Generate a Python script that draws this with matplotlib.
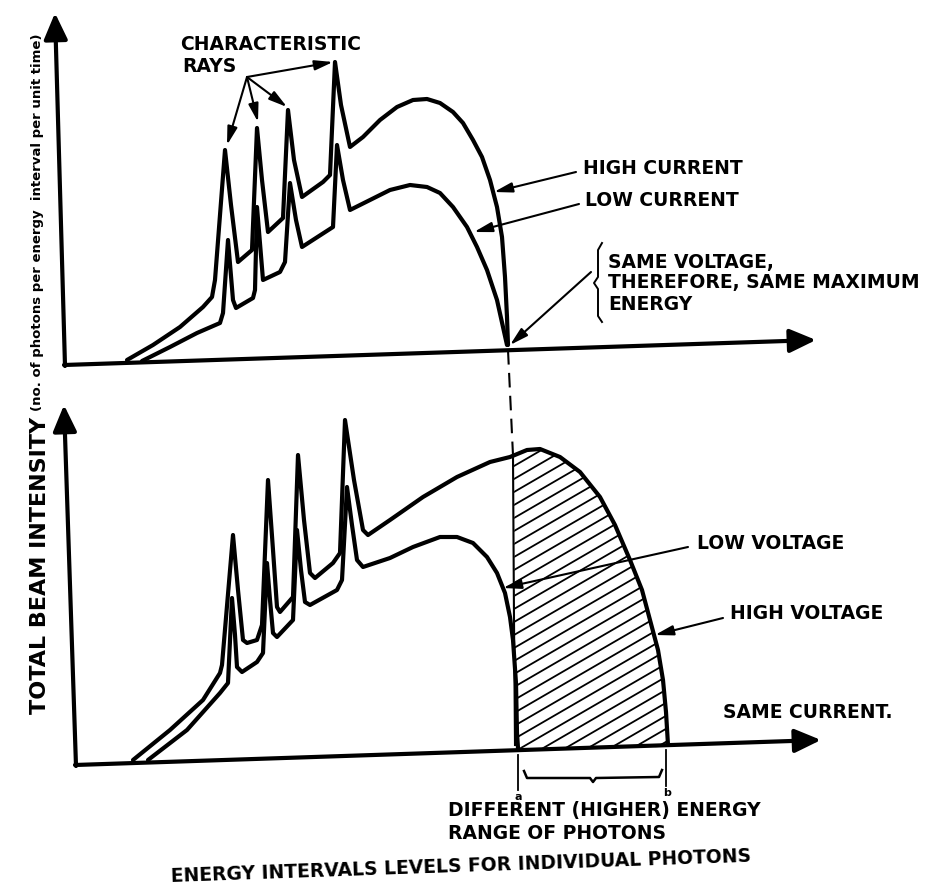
import numpy as np
import matplotlib.pyplot as plt
from matplotlib.patches import Polygon

# Whole sketch is laid out in image pixel units (y grows downward)
W, H = 926, 888

# ---- upper panel: same voltage, two tube currents ----
high_current_x = [127, 153, 180, 203, 212, 215, 225, 231, 238, 252, 257, 262, 268, 283, 288, 294,
                  302, 323, 330, 335, 341, 350, 363, 380, 397, 413, 427, 440, 453, 463, 473, 482,
                  490, 497, 502, 505, 507, 508]
high_current_y = [360, 345, 327, 307, 297, 280, 150, 205, 262, 250, 128, 180, 232, 218, 110, 160,
                  197, 182, 175, 62, 105, 147, 137, 120, 107, 100, 99, 103, 112, 123, 140, 157,
                  180, 207, 237, 277, 317, 345]

low_current_x = [142, 170, 197, 220, 223, 228, 233, 236, 253, 255, 257, 263, 280, 285, 290, 296,
                 302, 333, 337, 343, 350, 370, 390, 410, 427, 440, 453, 467, 477, 487, 497, 503, 507]
low_current_y = [361, 347, 333, 323, 313, 240, 300, 308, 298, 290, 207, 280, 272, 262, 183, 220,
                 247, 227, 145, 180, 210, 200, 190, 185, 187, 193, 207, 227, 247, 270, 300, 327, 345]

# ---- lower panel: same current, two tube voltages ----
high_voltage_x = [133, 170, 203, 220, 222, 233, 238, 243, 247, 257, 262, 268, 273, 277, 280, 293,
                  298, 304, 310, 315, 333, 340, 345, 354, 363, 368, 390, 423, 457, 490, 510, 527,
                  540, 560, 580, 600, 615, 630, 642, 650, 658, 663, 666, 668]
high_voltage_y = [760, 730, 700, 673, 665, 535, 590, 640, 643, 640, 625, 480, 550, 607, 612, 597,
                  455, 520, 573, 578, 563, 553, 420, 480, 530, 535, 520, 497, 477, 462, 457, 450,
                  449, 457, 472, 497, 525, 560, 590, 620, 650, 680, 712, 745]

low_voltage_x = [148, 187, 220, 228, 232, 235, 237, 242, 257, 263, 267, 270, 273, 277, 293, 297,
                 301, 305, 310, 337, 342, 347, 352, 357, 363, 390, 413, 440, 457, 473, 487, 497,
                 505, 510, 513, 516, 517, 518]
low_voltage_y = [760, 730, 693, 683, 598, 635, 667, 672, 662, 653, 563, 600, 633, 637, 620, 530,
                 570, 602, 605, 590, 580, 487, 525, 560, 567, 558, 547, 537, 537, 543, 557, 573,
                 593, 617, 640, 683, 733, 748]

# axis corners (origin, end of y arrow, end of x arrow)
top_axes = dict(origin=(65, 365), ytip=(55, 13), xtip=(816, 340))
bottom_axes = dict(origin=(76, 765), ytip=(64, 405), xtip=(821, 740))

# x position of max energy of the low voltage beam / high voltage beam
cut_a, cut_b = 514, 668

fig = plt.figure(figsize=(W / 100, H / 100), dpi=100)
ax = fig.add_axes([0, 0, 1, 1])
ax.set_xlim(0, W)
ax.set_ylim(H, 0)
ax.axis('off')

big_arrow = dict(arrowstyle='-|>,head_length=1.0,head_width=0.45', lw=3.0, color='k',
                 shrinkA=0, shrinkB=0, mutation_scale=16)
small_arrow = dict(arrowstyle='-|>,head_length=1.1,head_width=0.3', lw=1.5, color='k',
                   shrinkA=0, shrinkB=0, mutation_scale=10)

for a in (top_axes, bottom_axes):
    ox, oy = a['origin']
    ax.annotate('', xy=a['ytip'], xytext=(ox, oy + 1), arrowprops=big_arrow)
    ax.annotate('', xy=a['xtip'], xytext=(ox - 1, oy), arrowprops=big_arrow)

curve_kw = dict(color='k', lw=3.0, solid_joinstyle='round', solid_capstyle='round')
ax.plot(high_current_x, high_current_y, **curve_kw)
ax.plot(low_current_x, low_current_y, **curve_kw)
ax.plot(high_voltage_x, high_voltage_y, **curve_kw)
ax.plot(low_voltage_x, low_voltage_y, **curve_kw)

# hatched band of extra (higher) photon energies
hv_x = np.array(high_voltage_x)
hv_y = np.array(high_voltage_y)
keep = hv_x > cut_a
top_at_a = np.interp(cut_a, hv_x, hv_y)
region = [(cut_a, top_at_a)] + list(zip(hv_x[keep], hv_y[keep])) + [(cut_b, 747), (cut_a + 1, 748)]
clip = Polygon(region, closed=True, fc='none', ec='none')
ax.add_patch(clip)
xs = np.array([cut_a - 10, cut_b + 10])
for c in np.arange(440, 900, 13):
    ln, = ax.plot(xs, c - 0.58 * (xs - cut_a), color='k', lw=1.3)
    ln.set_clip_path(clip)
ax.plot([cut_a - 1, cut_a, cut_a + 1], [top_at_a, 620, 745], color='k', lw=1.5)

# dashed drop line linking the two max energies
ax.plot([508, cut_a - 1], [350, top_at_a], color='k', lw=1.5, ls=(0, (7, 4)))

# energy range ticks and brace under the lower axis
ax.plot([518, 518], [755, 790], color='k', lw=1.3)
ax.plot([666, 666], [750, 786], color='k', lw=1.3)
ax.plot([524, 527, 590, 593, 596, 659, 662], [771, 778, 778, 782, 778, 777, 770], color='k', lw=1.8)
ax.text(518, 797, 'a', fontsize=8, ha='center', va='center', fontweight='bold')
ax.text(667, 793, 'b', fontsize=8, ha='center', va='center', fontweight='bold')

# curly bracket next to the "same voltage" note
ax.plot([602, 598, 598, 594, 598, 598, 602], [243, 250, 277, 283, 289, 316, 322], color='k', lw=1.4)

text_kw = dict(fontsize=13.5, fontweight='bold', va='center', ha='left', color='k')
ax.text(180, 45, 'CHARACTERISTIC', **text_kw)
ax.text(182, 67, 'RAYS', **text_kw)
ax.text(583, 168, 'HIGH CURRENT', **text_kw)
ax.text(585, 200, 'LOW CURRENT', **text_kw)
ax.text(608, 262, 'SAME VOLTAGE,', **text_kw)
ax.text(608, 282, 'THEREFORE, SAME MAXIMUM', **text_kw)
ax.text(608, 304, 'ENERGY', **text_kw)
ax.text(697, 543, 'LOW VOLTAGE', **text_kw)
ax.text(730, 613, 'HIGH VOLTAGE', **text_kw)
ax.text(723, 712, 'SAME CURRENT.', **text_kw)
ax.text(448, 810, 'DIFFERENT (HIGHER) ENERGY', **text_kw)
ax.text(448, 833, 'RANGE OF PHOTONS', **text_kw)
ax.text(461, 866, 'ENERGY INTERVALS LEVELS FOR INDIVIDUAL PHOTONS', fontsize=13.5, fontweight='bold',
        ha='center', va='center', rotation=2)
ax.text(40, 565, 'TOTAL BEAM INTENSITY', fontsize=16, fontweight='bold', rotation=90,
        ha='center', va='center')
ax.text(38, 222, '(no. of photons per energy  interval per unit time)', fontsize=9.5, fontweight='bold',
        rotation=90, ha='center', va='center')

# pointer arrows
ray_from = (247, 77)
for tip in [(227, 145), (258, 122), (287, 107), (333, 62)]:
    ax.annotate('', xy=tip, xytext=ray_from, arrowprops=small_arrow)
ax.annotate('', xy=(494, 192), xytext=(576, 172), arrowprops=small_arrow)
ax.annotate('', xy=(474, 232), xytext=(579, 204), arrowprops=small_arrow)
ax.annotate('', xy=(510, 345), xytext=(591, 272), arrowprops=small_arrow)
ax.annotate('', xy=(503, 588), xytext=(688, 547), arrowprops=small_arrow)
ax.annotate('', xy=(655, 635), xytext=(723, 618), arrowprops=small_arrow)

fig.savefig('out.png', dpi=100)
